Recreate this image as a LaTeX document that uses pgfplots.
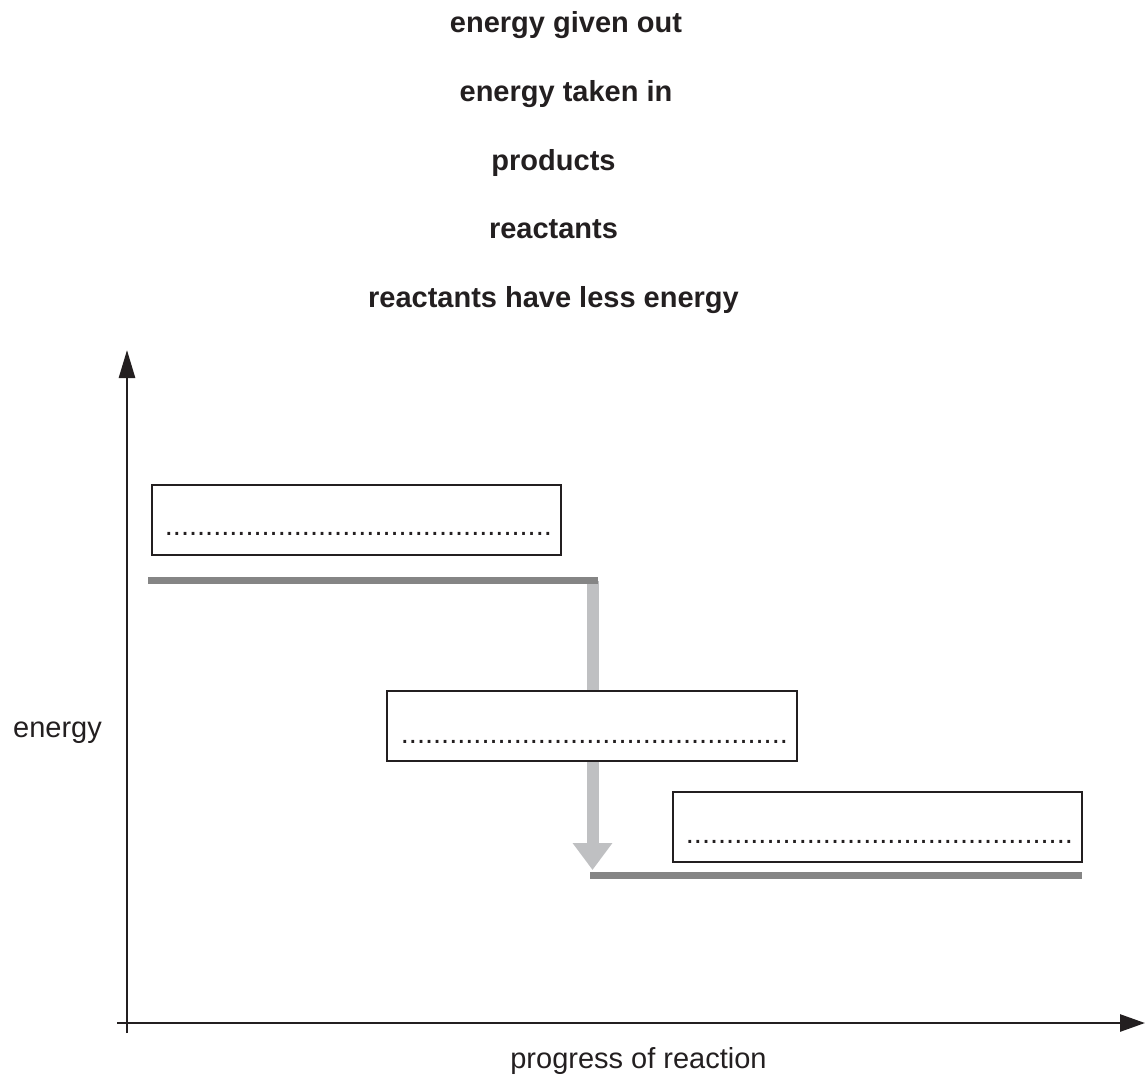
\documentclass[border=0pt]{standalone}
\usepackage{pgfplots}
\pgfplotsset{compat=1.18}
\usepackage{fontspec}
\setmainfont{Liberation Sans}
\usetikzlibrary{arrows.meta}
\definecolor{axcol}{HTML}{231F20}
\definecolor{levcol}{HTML}{858585}
\definecolor{arrcol}{HTML}{BFC0C2}
\newcommand{\dotrow}{................................................}
\tikzset{lab/.style={font=\fontsize{14.5pt}{17pt}\selectfont, text=axcol},
         blab/.style={font=\fontsize{14.5pt}{17pt}\selectfont\bfseries, text=axcol, anchor=base}}
\begin{document}
\begin{tikzpicture}
\useasboundingbox (0,0) rectangle (572.5pt,538.5pt);
\begin{axis}[
  hide axis, scale only axis,
  width=572.5pt, height=538.5pt,
  xmin=0, xmax=1145, ymin=0, ymax=1077,
  y dir=reverse, clip=false,
]
% axes
\addplot[axcol, line width=1.35pt, -{Triangle[length=14pt,width=8pt]}] coordinates {(127,1033) (127,350)};
\addplot[axcol, line width=1.35pt, -{Triangle[length=12.5pt,width=8.5pt]}] coordinates {(117,1023) (1145,1023)};
% energy change arrow
\addplot[arrcol, line width=6pt, -{Triangle[length=13.5pt,width=19pt]}] coordinates {(592.5,581) (592.5,870)};
% levels
\addplot[levcol, line width=3.5pt] coordinates {(148,580) (598,580)};
\addplot[levcol, line width=3.5pt] coordinates {(590,875) (1082,875)};
% boxes
\draw[axcol, line width=1pt, fill=white] (axis cs:152,485) rectangle (axis cs:561,555);
\draw[axcol, line width=1pt, fill=white] (axis cs:387,691) rectangle (axis cs:797,761);
\draw[axcol, line width=1pt, fill=white] (axis cs:673,792) rectangle (axis cs:1082,862);
\node[lab, anchor=base west, inner sep=0pt] at (axis cs:164.5,535.5) {\dotrow};
\node[lab, anchor=base west, inner sep=0pt] at (axis cs:400.5,743) {\dotrow};
\node[lab, anchor=base west, inner sep=0pt] at (axis cs:685.5,843) {\dotrow};
% word list
\node[blab] at (axis cs:566,32) {energy given out};
\node[blab] at (axis cs:566,101) {energy taken in};
\node[blab] at (axis cs:553.5,170) {products};
\node[blab] at (axis cs:553.5,238) {reactants};
\node[blab] at (axis cs:553.5,307) {reactants have less energy};
% axis labels
\node[lab, anchor=base] at (axis cs:57.5,737) {energy};
\node[lab, anchor=base] at (axis cs:638.5,1068) {progress of reaction};
\end{axis}
\end{tikzpicture}
\end{document}
